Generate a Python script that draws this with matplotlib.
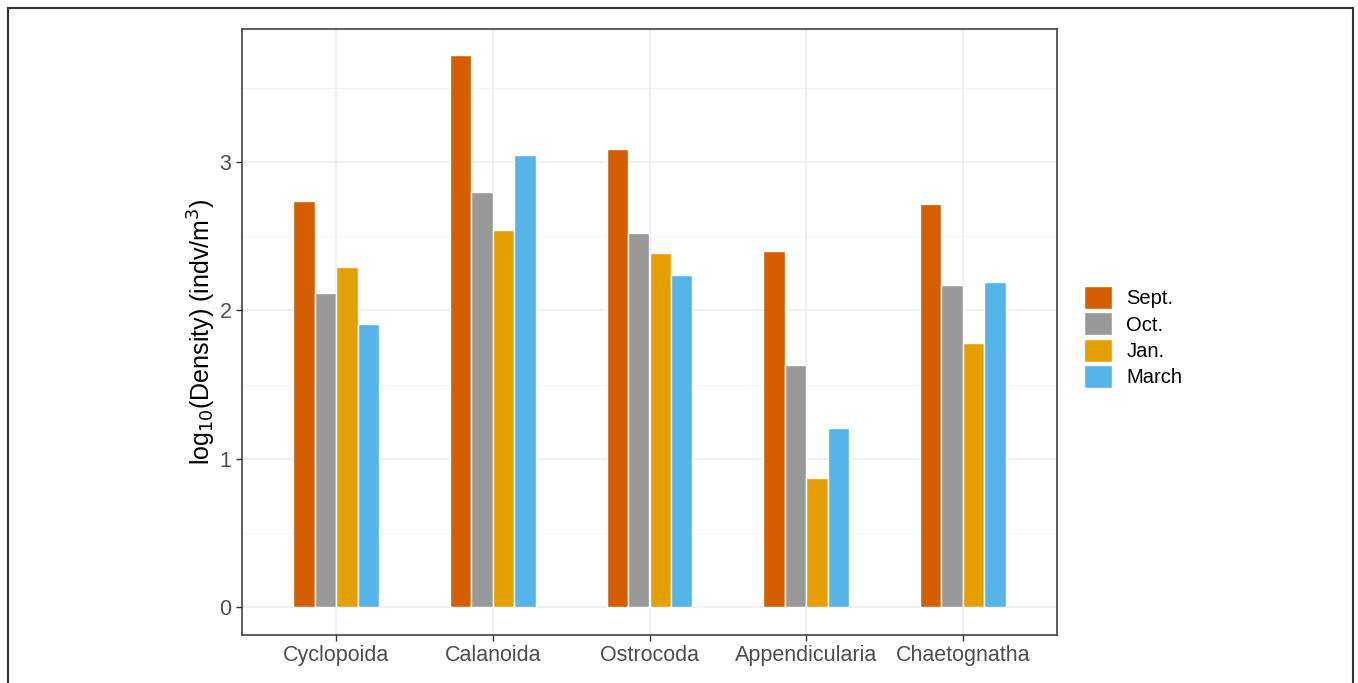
import matplotlib.pyplot as plt
import numpy as np
from matplotlib.patches import Rectangle, Patch
from matplotlib.ticker import MultipleLocator

plt.rcParams['font.family'] = ['Liberation Sans', 'DejaVu Sans']

groups = ['Cyclopoida', 'Calanoida', 'Ostrocoda', 'Appendicularia', 'Chaetognatha']
months = ['Sept.', 'Oct.', 'Jan.', 'March']
sept = [2.74, 3.72, 3.09, 2.40, 2.72]
octo = [2.12, 2.80, 2.52, 1.63, 2.17]
jan = [2.29, 2.54, 2.39, 0.87, 1.78]
march = [1.91, 3.05, 2.24, 1.21, 2.19]
colors = ['#D55E00', '#999999', '#E69F00', '#56B4E9']

fig = plt.figure(figsize=(13.58, 6.83), dpi=100)
ax = fig.add_axes([242/1358, 1-635/683, 815/1358, 606/683])

# outer frame around the figure
fig.patches.append(Rectangle((8/1358, -0.05), 1345/1358, 1.05 - 8/683,
                             transform=fig.transFigure, fill=False,
                             edgecolor='#333333', linewidth=1.5))

x = np.arange(1, len(groups) + 1)
w = 0.137
for i, (vals, c, lab) in enumerate(zip([sept, octo, jan, march], colors, months)):
    ax.bar(x + (i - 1.5) * w, vals, width=w, color=c, edgecolor='white',
           linewidth=1, label=lab, zorder=3)

ax.set_xlim(0.4, 5.6)
ax.set_ylim(-0.1855, 3.8955)
ax.set_xticks(x)
ax.set_xticklabels(groups)
ax.yaxis.set_major_locator(MultipleLocator(1))
ax.yaxis.set_minor_locator(MultipleLocator(0.5))
ax.grid(True, which='major', color='#EBEBEB', linewidth=1.1, zorder=0)
ax.grid(True, which='minor', axis='y', color='#F2F2F2', linewidth=0.6, zorder=0)
ax.tick_params(axis='both', which='major', labelsize=15.5, labelcolor='#4D4D4D',
               color='#333333', length=4, width=1)
ax.tick_params(axis='y', which='minor', length=0)
for s in ax.spines.values():
    s.set_color('#333333')
    s.set_linewidth(1.1)

ax.set_ylabel(r'log$_{10}$(Density) (indv/m$^{3}$)', fontsize=18, color='black',
              labelpad=1)

handles = [Patch(facecolor=c, edgecolor='white') for c in colors]
fig.legend(handles, months, loc='center left', bbox_to_anchor=(1076/1358, 1-337/683),
           frameon=False, fontsize=14.5, handlelength=1.4, handleheight=1.4,
           handletextpad=0.7, labelspacing=0.15, borderaxespad=0)

fig.savefig('out.png', dpi=100)
